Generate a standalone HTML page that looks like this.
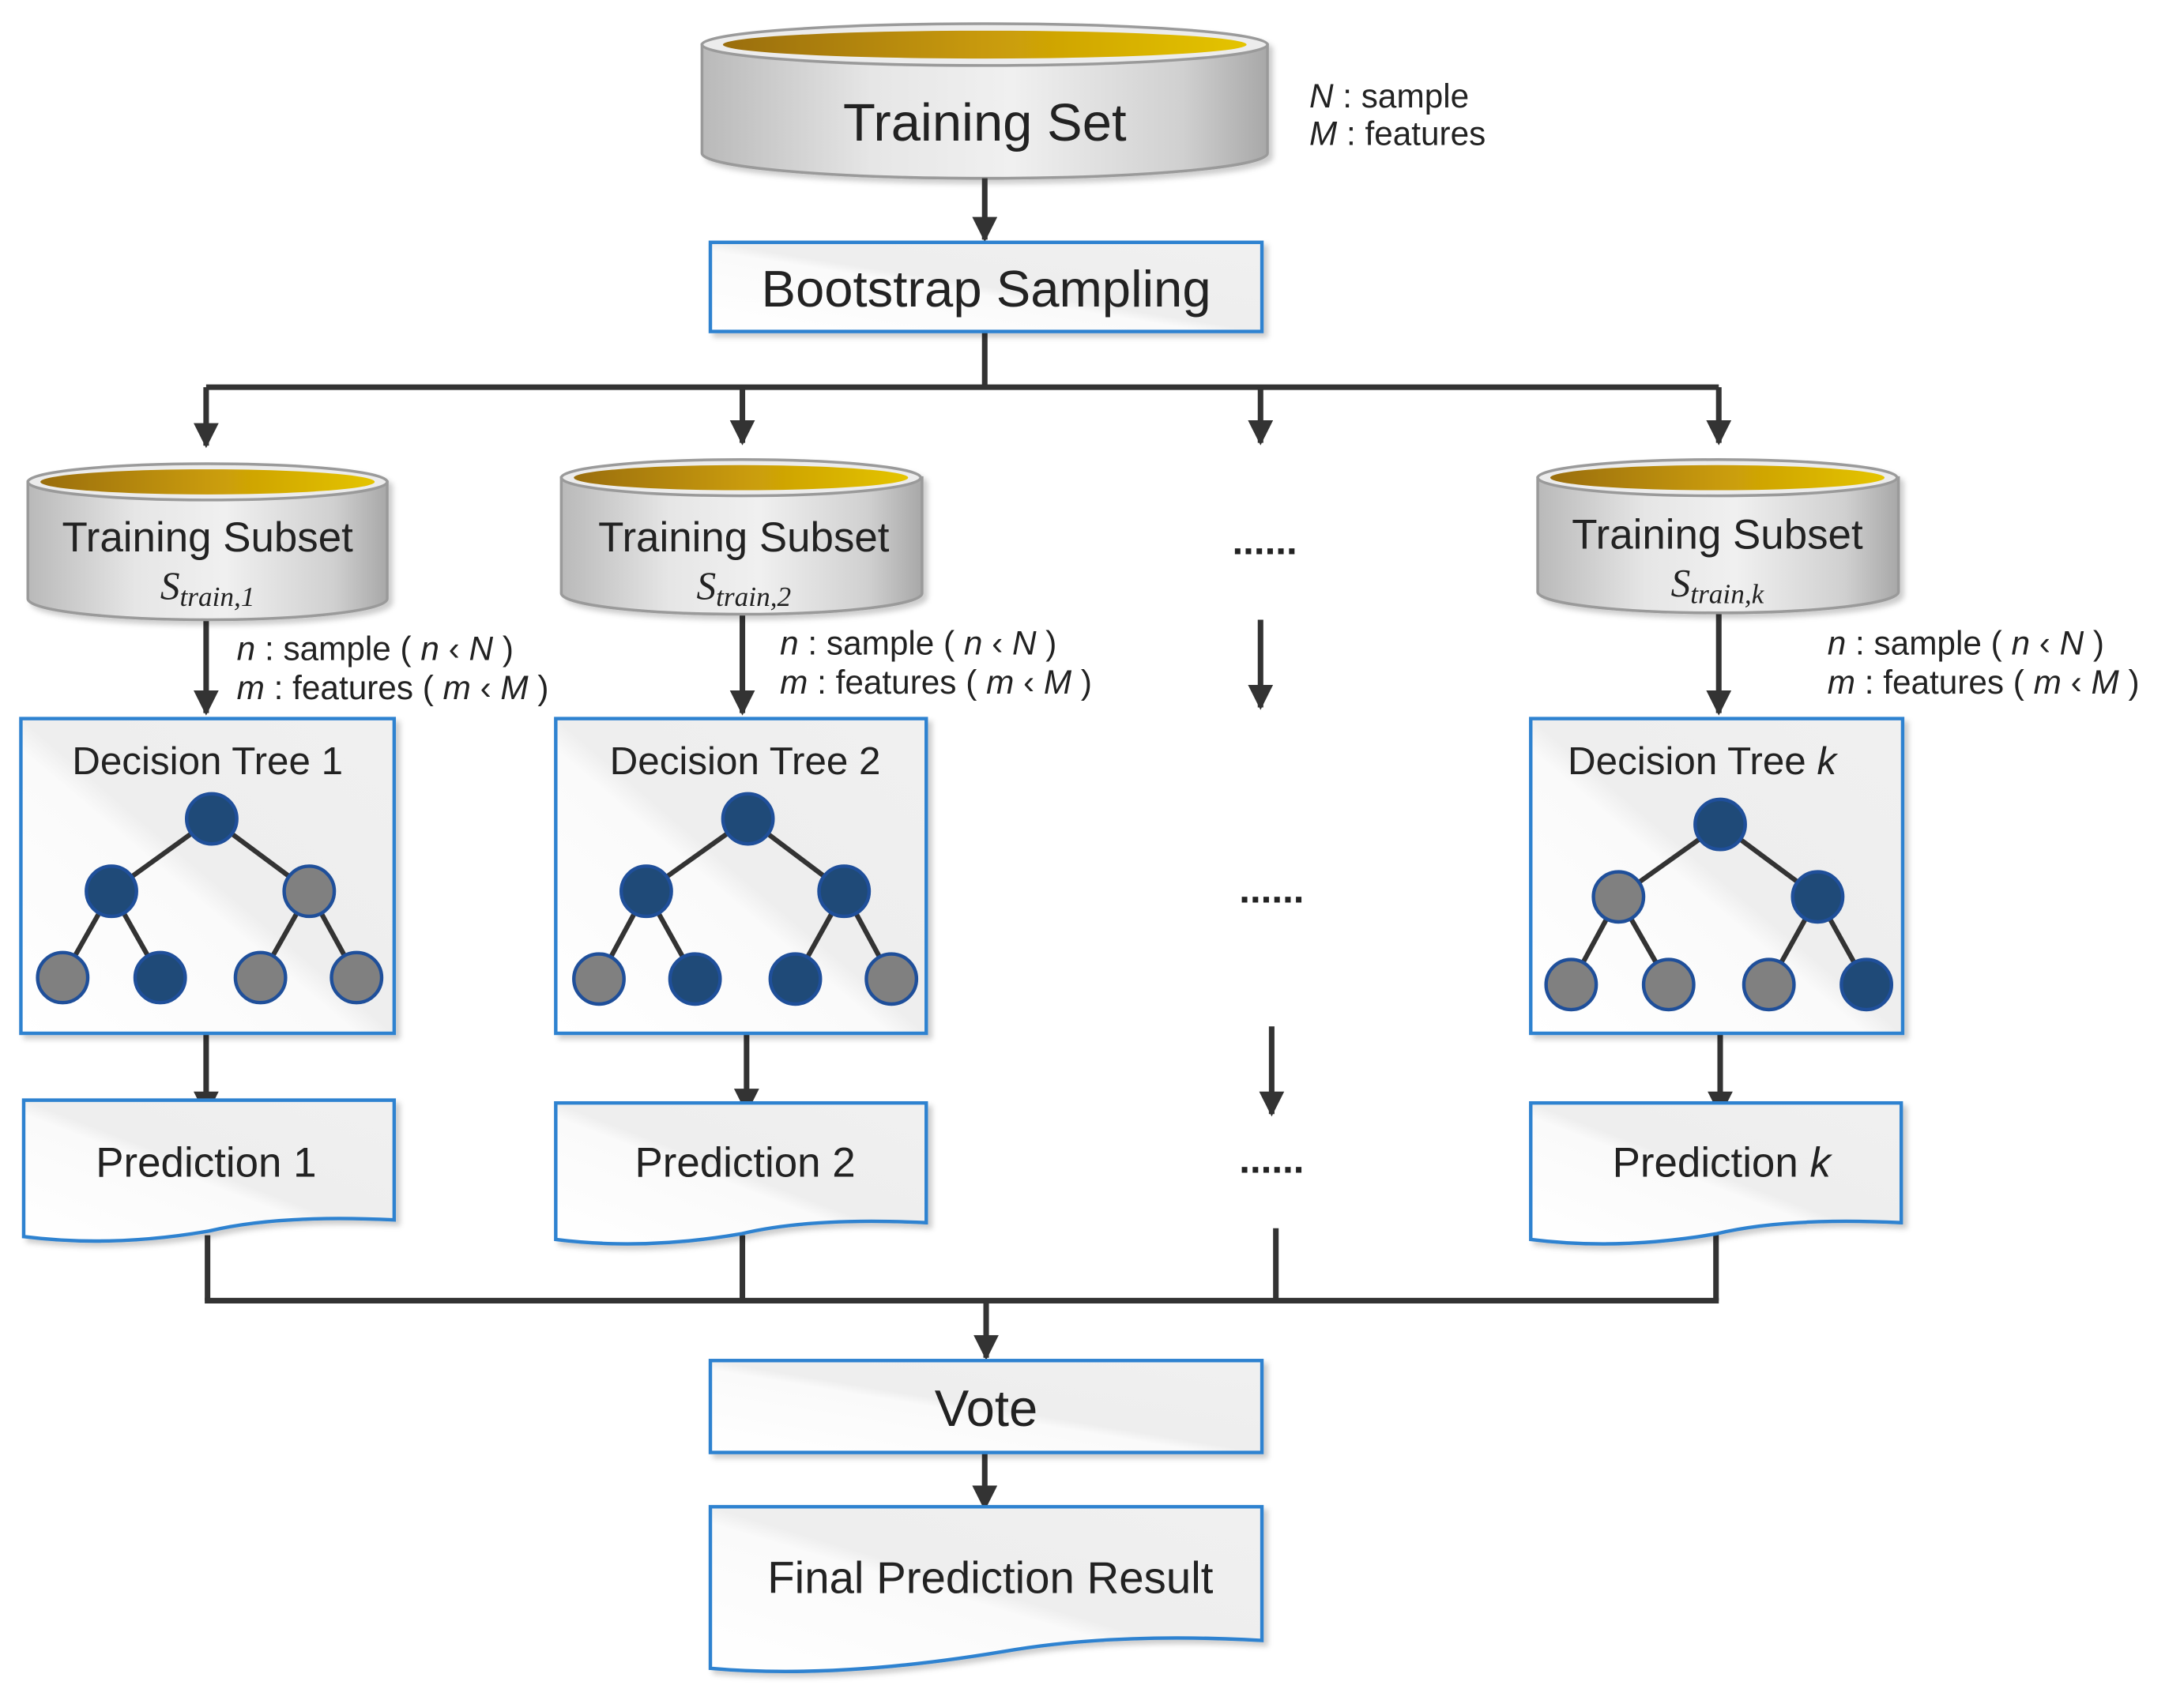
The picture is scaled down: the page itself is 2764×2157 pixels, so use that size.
<!DOCTYPE html>
<html><head><meta charset="utf-8"><style>
html,body{margin:0;padding:0;background:#fff}
svg{display:block}
text{font-family:"Liberation Sans",sans-serif;fill:#222}
</style></head><body>
<svg width="2764" height="2157" viewBox="0 0 1568 1223.6" xmlns="http://www.w3.org/2000/svg">
<defs>
<linearGradient id="body" x1="0" x2="1" y1="0" y2="0">
<stop offset="0" stop-color="#b9b9b9"/><stop offset="0.3" stop-color="#e6e6e6"/><stop offset="0.55" stop-color="#f0f0f0"/><stop offset="0.85" stop-color="#d0d0d0"/><stop offset="1" stop-color="#a8a8a8"/></linearGradient>
<linearGradient id="gold" x1="0" x2="1"><stop offset="0" stop-color="#9a6e10"/><stop offset="0.5" stop-color="#c89a08"/><stop offset="1" stop-color="#e4c400"/></linearGradient>
<linearGradient id="box" x1="0" y1="1" x2="1" y2="0"><stop offset="0" stop-color="#fff"/><stop offset="0.45" stop-color="#fafafa"/><stop offset="0.5" stop-color="#eeeeee"/><stop offset="1" stop-color="#f0f0f0"/></linearGradient>
<marker id="ar" viewBox="0 0 10 10" refX="9" refY="5" markerWidth="4.5" markerHeight="4.5" orient="auto"><path d="M0,0 L10,5 L0,10z" fill="#333"/></marker>
<filter id="sh" x="-5%" y="-5%" width="115%" height="120%"><feDropShadow dx="3" dy="3" stdDeviation="2" flood-color="#000" flood-opacity="0.2"/></filter>
</defs>

<!-- Training set cylinder -->
<g filter="url(#sh)">
<path d="M504,32 L504,110 A203,18 0 0 0 910,110 L910,32 Z" fill="url(#body)" stroke="#9a9a9a" stroke-width="2"/>
<ellipse cx="707" cy="32" rx="203" ry="15" fill="#ececec" stroke="#9a9a9a" stroke-width="2"/>
<ellipse cx="707" cy="32" rx="188" ry="10" fill="url(#gold)"/>
</g>
<text x="707" y="101" font-size="38" text-anchor="middle">Training Set</text>
<text x="940" y="77" font-size="24"><tspan font-style="italic">N</tspan> : sample</text>
<text x="940" y="104" font-size="24"><tspan font-style="italic">M</tspan> : features</text>

<g stroke="#333" stroke-width="4" fill="none">
<line x1="707" y1="128" x2="707" y2="172" marker-end="url(#ar)"/>
<line x1="707" y1="238" x2="707" y2="278"/>
<line x1="148" y1="278" x2="1234" y2="278"/>
<line x1="148" y1="278" x2="148" y2="320" marker-end="url(#ar)"/>
<line x1="533" y1="278" x2="533" y2="318" marker-end="url(#ar)"/>
<line x1="905" y1="278" x2="905" y2="318" marker-end="url(#ar)"/>
<line x1="1234" y1="278" x2="1234" y2="318" marker-end="url(#ar)"/>
<line x1="148" y1="445" x2="148" y2="512" marker-end="url(#ar)"/>
<line x1="533" y1="440" x2="533" y2="512" marker-end="url(#ar)"/>
<line x1="905" y1="445" x2="905" y2="508" marker-end="url(#ar)"/>
<line x1="1234" y1="440" x2="1234" y2="512" marker-end="url(#ar)"/>
<line x1="148" y1="742" x2="148" y2="800" marker-end="url(#ar)"/>
<line x1="536" y1="737" x2="536" y2="798" marker-end="url(#ar)"/>
<line x1="913" y1="737" x2="913" y2="800" marker-end="url(#ar)"/>
<line x1="1235" y1="742" x2="1235" y2="800" marker-end="url(#ar)"/>
<line x1="149" y1="887" x2="149" y2="934"/>
<line x1="533" y1="887" x2="533" y2="934"/>
<line x1="916" y1="882" x2="916" y2="934"/>
<line x1="1232" y1="880" x2="1232" y2="934"/>
<line x1="147" y1="934" x2="1234" y2="934"/>
<line x1="708" y1="934" x2="708" y2="975" marker-end="url(#ar)"/>
<line x1="707" y1="1043" x2="707" y2="1083" marker-end="url(#ar)"/>
</g>

<!-- Bootstrap -->
<rect x="510" y="174" width="396" height="64" fill="url(#box)" stroke="#2f82d0" stroke-width="2.5" filter="url(#sh)"/>
<text x="708" y="220" font-size="37" text-anchor="middle">Bootstrap Sampling</text>

<!-- Subset cylinders -->
<g id="cyl">
<g filter="url(#sh)">
<path d="M20,346 L20,430 A129,15 0 0 0 278,430 L278,346 Z" fill="url(#body)" stroke="#9a9a9a" stroke-width="2"/>
<ellipse cx="149" cy="346" rx="129" ry="13" fill="#ececec" stroke="#9a9a9a" stroke-width="2"/>
<ellipse cx="149" cy="346" rx="120" ry="9" fill="url(#gold)"/>
</g>
</g>
<g filter="url(#sh)">
<path d="M403,343 L403,426 A129,15 0 0 0 662,426 L662,343 Z" fill="url(#body)" stroke="#9a9a9a" stroke-width="2"/>
<ellipse cx="532" cy="343" rx="129" ry="13" fill="#ececec" stroke="#9a9a9a" stroke-width="2"/>
<ellipse cx="532" cy="343" rx="120" ry="9" fill="url(#gold)"/>
</g>
<g filter="url(#sh)">
<path d="M1104,343 L1104,425 A129,15 0 0 0 1363,425 L1363,343 Z" fill="url(#body)" stroke="#9a9a9a" stroke-width="2"/>
<ellipse cx="1233" cy="343" rx="129" ry="13" fill="#ececec" stroke="#9a9a9a" stroke-width="2"/>
<ellipse cx="1233" cy="343" rx="120" ry="9" fill="url(#gold)"/>
</g>
<g font-size="30" text-anchor="middle">
<text x="149" y="396">Training Subset</text>
<text x="534" y="396">Training Subset</text>
<text x="1233" y="394">Training Subset</text>
</g>
<g font-family="Liberation Serif" font-style="italic" text-anchor="middle">
<text x="149" y="430" font-size="28" style="font-family:'Liberation Serif',serif">S<tspan font-size="20" dy="5">train,1</tspan></text>
<text x="534" y="430" font-size="28" style="font-family:'Liberation Serif',serif">S<tspan font-size="20" dy="5">train,2</tspan></text>
<text x="1233" y="428" font-size="28" style="font-family:'Liberation Serif',serif">S<tspan font-size="20" dy="5">train,k</tspan></text>
</g>
<text x="908" y="398" font-size="28" text-anchor="middle" font-weight="bold">......</text>

<g font-size="24">
<text x="170" y="474"><tspan font-style="italic">n</tspan> : sample ( <tspan font-style="italic">n</tspan> ‹ <tspan font-style="italic">N</tspan> )</text>
<text x="170" y="502"><tspan font-style="italic">m</tspan> : features ( <tspan font-style="italic">m</tspan> ‹ <tspan font-style="italic">M</tspan> )</text>
<text x="560" y="470"><tspan font-style="italic">n</tspan> : sample ( <tspan font-style="italic">n</tspan> ‹ <tspan font-style="italic">N</tspan> )</text>
<text x="560" y="498"><tspan font-style="italic">m</tspan> : features ( <tspan font-style="italic">m</tspan> ‹ <tspan font-style="italic">M</tspan> )</text>
<text x="1312" y="470"><tspan font-style="italic">n</tspan> : sample ( <tspan font-style="italic">n</tspan> ‹ <tspan font-style="italic">N</tspan> )</text>
<text x="1312" y="498"><tspan font-style="italic">m</tspan> : features ( <tspan font-style="italic">m</tspan> ‹ <tspan font-style="italic">M</tspan> )</text>
</g>

<!-- Decision tree boxes -->
<g fill="url(#box)" stroke="#2f82d0" stroke-width="2.5" filter="url(#sh)">
<rect x="15" y="516" width="268" height="226"/>
<rect x="399" y="516" width="266" height="226"/>
<rect x="1099" y="516" width="267" height="226"/>
</g>
<g font-size="28" text-anchor="middle">
<text x="149" y="556">Decision Tree 1</text>
<text x="535" y="556">Decision Tree 2</text>
<text x="1222" y="556">Decision Tree <tspan font-style="italic">k</tspan></text>
</g>
<g stroke="#333" stroke-width="3.5">
<path d="M152,588 L80,640 M152,588 L222,640 M80,640 L45,702 M80,640 L115,702 M222,640 L187,702 M222,640 L256,702"/>
<path d="M537,588 L464,640 M537,588 L606,640 M464,640 L430,703 M464,640 L499,703 M606,640 L571,703 M606,640 L640,703"/>
<path d="M1235,592 L1162,644 M1235,592 L1305,644 M1162,644 L1128,707 M1162,644 L1198,707 M1305,644 L1270,707 M1305,644 L1340,707"/>
</g>
<g stroke="#1f4f9a" stroke-width="2.5">
<circle cx="152" cy="588" r="18" fill="#1f4a78"/>
<circle cx="80" cy="640" r="18" fill="#1f4a78"/>
<circle cx="222" cy="640" r="18" fill="#808080"/>
<circle cx="45" cy="702" r="18" fill="#808080"/>
<circle cx="115" cy="702" r="18" fill="#1f4a78"/>
<circle cx="187" cy="702" r="18" fill="#808080"/>
<circle cx="256" cy="702" r="18" fill="#808080"/>
<circle cx="537" cy="588" r="18" fill="#1f4a78"/>
<circle cx="464" cy="640" r="18" fill="#1f4a78"/>
<circle cx="606" cy="640" r="18" fill="#1f4a78"/>
<circle cx="430" cy="703" r="18" fill="#808080"/>
<circle cx="499" cy="703" r="18" fill="#1f4a78"/>
<circle cx="571" cy="703" r="18" fill="#1f4a78"/>
<circle cx="640" cy="703" r="18" fill="#808080"/>
<circle cx="1235" cy="592" r="18" fill="#1f4a78"/>
<circle cx="1162" cy="644" r="18" fill="#808080"/>
<circle cx="1305" cy="644" r="18" fill="#1f4a78"/>
<circle cx="1128" cy="707" r="18" fill="#808080"/>
<circle cx="1198" cy="707" r="18" fill="#808080"/>
<circle cx="1270" cy="707" r="18" fill="#808080"/>
<circle cx="1340" cy="707" r="18" fill="#1f4a78"/>
</g>
<text x="913" y="648" font-size="28" text-anchor="middle" font-weight="bold">......</text>

<!-- Prediction docs -->
<g fill="url(#box)" stroke="#2f82d0" stroke-width="2.5" filter="url(#sh)">
<path d="M17,790 L283,790 L283,876 Q200,872 150,884 Q80,896 17,888 Z"/>
<path d="M399,792 L665,792 L665,878 Q582,874 532,886 Q462,898 399,890 Z"/>
<path d="M1099,792 L1365,792 L1365,878 Q1282,874 1232,886 Q1162,898 1099,890 Z"/>
<path d="M510,1082 L906,1082 L906,1178 Q800,1172 720,1186 Q600,1206 510,1198 Z"/>
</g>
<g font-size="30" text-anchor="middle">
<text x="148" y="845">Prediction 1</text>
<text x="535" y="845">Prediction 2</text>
<text x="1236" y="845">Prediction <tspan font-style="italic">k</tspan></text>
</g>
<text x="913" y="842" font-size="28" text-anchor="middle" font-weight="bold">......</text>

<!-- Vote -->
<rect x="510" y="977" width="396" height="66" fill="url(#box)" stroke="#2f82d0" stroke-width="2.5" filter="url(#sh)"/>
<text x="708" y="1024" font-size="37" text-anchor="middle">Vote</text>
<text x="711" y="1144" font-size="32" text-anchor="middle">Final Prediction Result</text>
</svg>
</body></html>
